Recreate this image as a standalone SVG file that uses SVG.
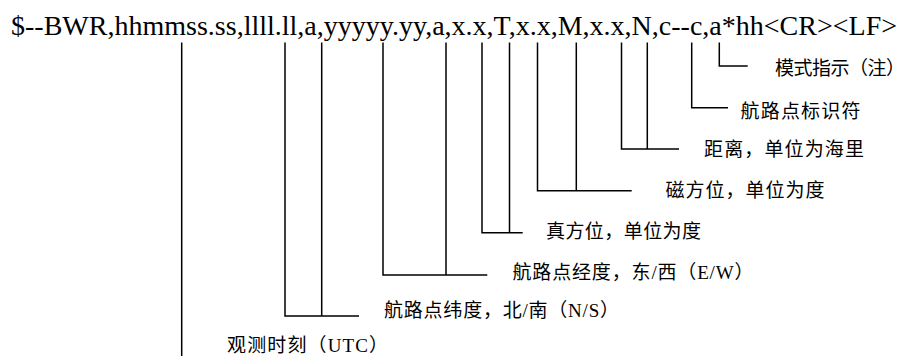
<svg xmlns="http://www.w3.org/2000/svg" width="907" height="356" viewBox="0 0 907 356">
<style>
  .hdr { font-family: "Liberation Serif", "Times New Roman", serif; font-size: 28px; fill: #000; }
  .lbl { font-family: "Liberation Serif", "Noto Sans CJK SC", serif; font-size: 19px; fill: #000; }
  .ln { stroke: #000; stroke-width: 1.5; fill: none; }
</style>
<rect width="907" height="356" fill="#fff"/>
<g id="sentence">
  <text class="hdr" x="11" y="35" textLength="886" lengthAdjust="spacingAndGlyphs">$--BWR,hhmmss.ss,llll.ll,a,yyyyy.yy,a,x.x,T,x.x,M,x.x,N,c--c,a*hh&lt;CR&gt;&lt;LF&gt;</text>
</g>
<g id="connectors">
  <path class="ln" d="M181.7,42.5 V356"/>
  <path class="ln" d="M285,42.5 V316 H359 M321.7,42.5 V316"/>
  <path class="ln" d="M383,42.5 V275 H487.3 M446,42.5 V275"/>
  <path class="ln" d="M482,42.5 V232.7 H522.7 M509.5,42.5 V232.7"/>
  <path class="ln" d="M537.5,42.5 V190.7 H631.7 M576.3,42.5 V190.7"/>
  <path class="ln" d="M621.5,42.5 V149 H679 M647.3,42.5 V149"/>
  <path class="ln" d="M691.7,42.5 V107.7 H728"/>
  <path class="ln" d="M719.3,42.5 V66 H747.7"/>
</g>
<g id="label-mode"><text class="lbl" x="775" y="74.5" textLength="130" lengthAdjust="spacing">模式指示（注）</text></g>
<g id="label-id"><text class="lbl" x="740.5" y="117.5" textLength="120" lengthAdjust="spacing">航路点标识符</text></g>
<g id="label-distance"><text class="lbl" x="704" y="156" textLength="160" lengthAdjust="spacing">距离，单位为海里</text></g>
<g id="label-magnetic"><text class="lbl" x="665.5" y="197" textLength="159" lengthAdjust="spacing">磁方位，单位为度</text></g>
<g id="label-true"><text class="lbl" x="546" y="238" textLength="155" lengthAdjust="spacing">真方位，单位为度</text></g>
<g id="label-longitude"><text class="lbl" x="512.5" y="279" textLength="241" lengthAdjust="spacing">航路点经度，东/西（E/W）</text></g>
<g id="label-latitude"><text class="lbl" x="384" y="317" textLength="235" lengthAdjust="spacing">航路点纬度，北/南（N/S）</text></g>
<g id="label-utc"><text class="lbl" x="227" y="352" textLength="161" lengthAdjust="spacing">观测时刻（UTC）</text></g>
</svg>
